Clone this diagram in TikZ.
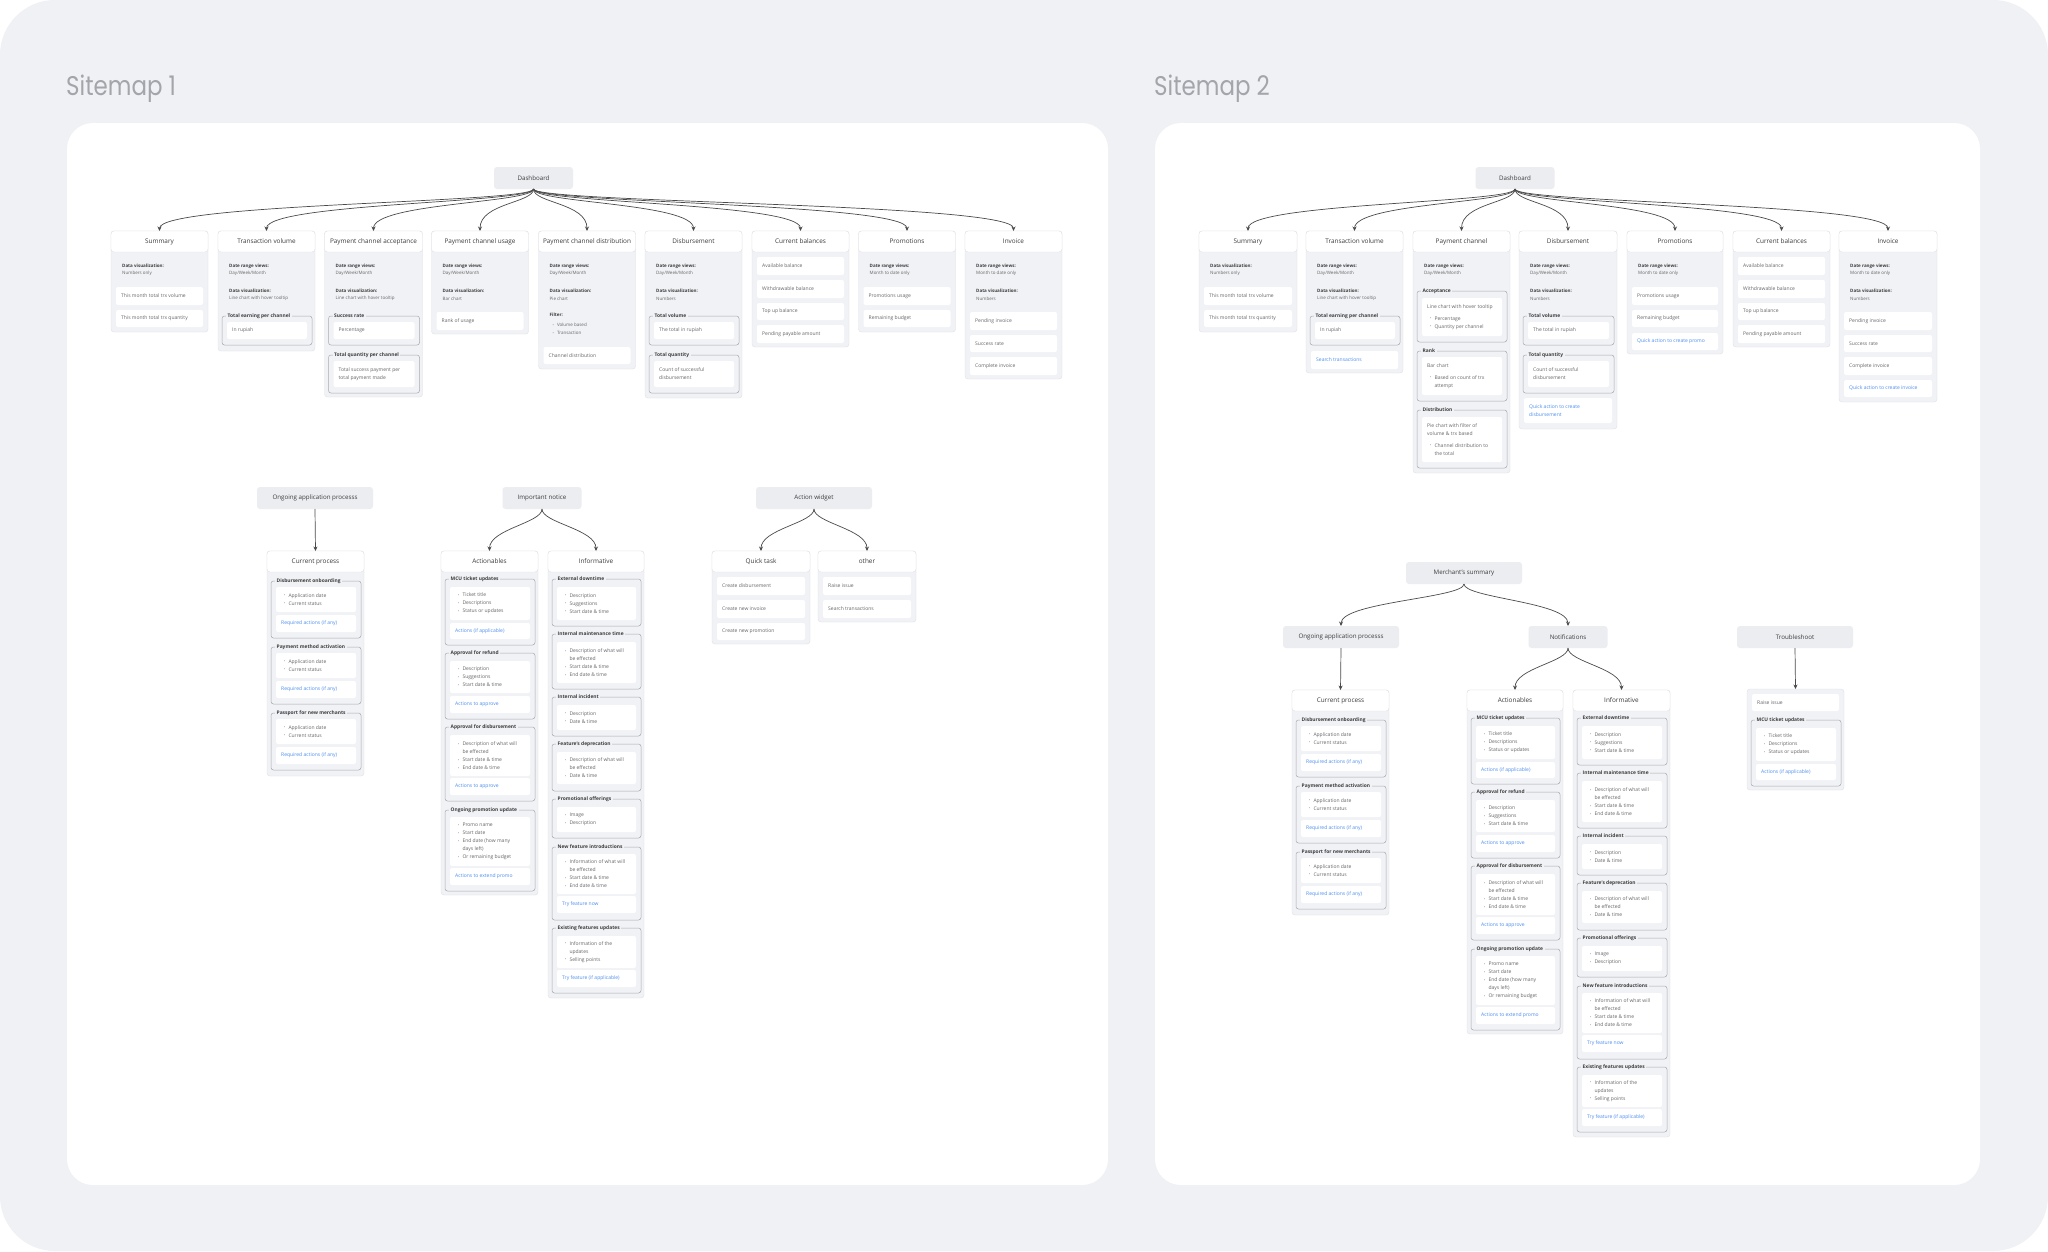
\documentclass[tikz,border=0pt]{standalone}
\usepackage{fontspec}
\usepackage{graphicx}
\setmainfont{Open Sans}
\newfontfamily\poppins{Poppins}
\usetikzlibrary{arrows.meta}
\definecolor{pageG}{HTML}{F0F1F5}
\definecolor{cardG}{HTML}{F1F2F5}
\definecolor{nodeG}{HTML}{ECEDF1}
\definecolor{edgeC}{HTML}{E0E1E6}
\definecolor{grpC}{HTML}{A8AAAF}
\definecolor{txtD}{HTML}{3C3C3C}
\definecolor{txtM}{HTML}{666666}
\definecolor{linkC}{HTML}{4D8EF0}
\definecolor{arrC}{HTML}{4A4A4A}
\definecolor{titleC}{HTML}{A3A5AB}
\newcount\lc
\newcommand\nx{\global\advance\lc by 1\relax}
\newcommand\fT{\fontsize{6.4}{7.5}\selectfont}
\newcommand\fN{\fontsize{6.2}{7.5}\selectfont}
\newcommand\fS{\fontsize{4.5}{7.7}\selectfont}
\newcommand\fI{\fontsize{5}{8}\selectfont}
\newcommand\fG{\fontsize{4.9}{6}\selectfont}
\newcommand\bl{\hspace*{3pt}\makebox[4.3pt][l]{\raisebox{0.4pt}{\fontsize{3.4}{4}\selectfont\textbullet}}}
\newcommand\bc{\hspace*{7.3pt}}
\newcommand\lk[1]{\textcolor{linkC}{#1}}
\tikzset{
 x=1pt, y=-1pt,
 topn/.style={fill=nodeG, rounded corners=3pt, minimum height=22pt, inner sep=0pt, outer sep=0pt, font=\fN, text=txtD},
 cardn/.style={fill=cardG, draw=edgeC, line width=0.4pt, rounded corners=3pt, inner sep=0pt, outer sep=0pt, anchor=north west},
 headn/.style={fill=white, draw=edgeC, line width=0.4pt, rounded corners=3pt, minimum height=21pt, inner sep=0pt, outer sep=0pt, font=\fT, text=txtD, anchor=north west},
 kvb/.style={anchor=west, inner sep=0pt, font=\fS\bfseries, text=txtD},
 kvr/.style={anchor=west, inner sep=0pt, font=\fS, text=txtM},
 itembox/.style={fill=white, rounded corners=2pt, inner sep=0pt, outer sep=0pt, anchor=north west},
 itemtx/.style={anchor=west, align=left, inner sep=0pt, font=\fI, text=txtM},
 grp/.style={draw=grpC, line width=0.5pt, rounded corners=2.5pt},
 grplbl/.style={anchor=west, fill=cardG, inner xsep=1.5pt, inner ysep=0.5pt, font=\fG\bfseries, text=txtD},
 arr/.style={draw=arrC, line width=0.7pt, -{Stealth[length=4.5pt,width=4pt]}},
}
\newcommand\WBox[5]{\pgfmathsetmacro\bw{#3}\pgfmathsetmacro\bh{#4}\pgfmathsetmacro\by{#2+#4/2}%
 \nx\node[itembox, minimum width=\bw pt, minimum height=\bh pt] (L\the\lc) at (#1,#2) {};%
 \nx\node[itemtx] (L\the\lc) at (#1+5,\by) {#5};}
\newcommand\It[3]{\WBox{5}{#1}{\cw-10}{#2}{#3}}
\newcommand\GIt[3]{\WBox{9}{#1}{\cw-17}{#2}{#3}}
\newcommand\Grp[3]{\draw[grp] (4,#1) rectangle (\cw-3,#2);\nx\node[grplbl] (L\the\lc) at (8,#1) {#3};}
\newcommand\KV[3]{\nx\node[kvb] (L\the\lc) at (11,#1) {#2};\nx\node[kvr] (L\the\lc) at (11,#1+7.7) {#3};}
\newcommand\Card[4]{\def\cw{#2}%
 \node[cardn, minimum width=#2pt, minimum height=#3pt] (#1) at (0,0) {};%
 \node[headn, minimum width=#2pt] (#1h) at (0,0) {#4};}
\newcommand\Fan[3]{\draw[arr] (#1.south) .. controls +(0,14) and +(0,-#3) .. (#2.north);}
% reusable contents
\newcommand\AppGrp[2]{\Grp{#1}{#1+57}{#2}\GIt{#1+6}{25}{\bl Application date\\\bl Current status}\GIt{#1+34}{17}{\lk{Required actions (if any)}}}
\newcommand\CurCard[1]{\Card{#1}{97}{225}{Current process}%
 \AppGrp{30}{Disbursement onboarding}\AppGrp{96}{Payment method activation}\AppGrp{162}{Passport for new merchants}}
\newcommand\McuGrp[1]{\Grp{#1}{#1+66}{MCU ticket updates}\GIt{#1+8}{33}{\bl Ticket title\\\bl Descriptions\\\bl Status or updates}\GIt{#1+44}{16}{\lk{Actions (if applicable)}}}
\newcommand\ActCard[2]{\Card{#1}{#2}{344}{Actionables}%
 \McuGrp{28}%
 \Grp{102}{168}{Approval for refund}\GIt{110}{32}{\bl Description\\\bl Suggestions\\\bl Start date \& time}\GIt{145}{17}{\lk{Actions to approve}}%
 \Grp{176}{250}{Approval for disbursement}\GIt{184}{41}{\bl Description of what will\\\bc be effected\\\bl Start date \& time\\\bl End date \& time}\GIt{227}{17}{\lk{Actions to approve}}%
 \Grp{259}{340}{Ongoing promotion update}\GIt{266}{49}{\bl Promo name\\\bl Start date\\\bl End date (how many\\\bc days left)\\\bl Or remaining budget}\GIt{317}{17}{\lk{Actions to extend promo}}}
\newcommand\InfCard[2]{\Card{#1}{#2}{447}{Informative}%
 \Grp{28}{75}{External downtime}\GIt{36}{33}{\bl Description\\\bl Suggestions\\\bl Start date \& time}%
 \Grp{83}{138}{Internal maintenance time}\GIt{91}{41}{\bl Description of what will\\\bc be effected\\\bl Start date \& time\\\bl End date \& time}%
 \Grp{146}{185}{Internal incident}\GIt{154}{25}{\bl Description\\\bl Date \& time}%
 \Grp{193}{240}{Feature's deprecation}\GIt{201}{32}{\bl Description of what will\\\bc be effected\\\bl Date \& time}%
 \Grp{248}{287}{Promotional offerings}\GIt{256}{25}{\bl Image\\\bl Description}%
 \Grp{296}{369}{New feature introductions}\GIt{303}{40}{\bl Information of what will\\\bc be effected\\\bl Start date \& time\\\bl End date \& time}\GIt{345}{17}{\lk{Try feature now}}%
 \Grp{377}{442}{Existing features updates}\GIt{385}{32}{\bl Information of the\\\bc updates\\\bl Selling points}\GIt{419}{17}{\lk{Try feature (if applicable)}}}
\newcommand\SumCard[2]{\Card{#1}{#2}{101}{Summary}\KV{35}{Data visualization:}{Numbers only}%
 \It{56}{18}{This month total trx volume}\It{79}{17}{This month total trx quantity}}
\newcommand\CbCard[2]{\Card{#1}{#2}{116}{Current balances}%
 \It{26}{18}{Available balance}\It{49}{18}{Withdrawable balance}\It{72}{17}{Top up balance}\It{94}{18}{Pending payable amount}}
\newcommand\DateKV{\KV{35}{Date range views:}{Day/Week/Month}}
\newcommand\MonthKV{\KV{35}{Date range views:}{Month to date only}}

\begin{document}
\begin{tikzpicture}
\useasboundingbox (0,0) rectangle (2048,1251);
\fill[white] (0,0) rectangle (2048,1251);
\fill[pageG, rounded corners=55pt] (0,0) rectangle (2048,1251);
\fill[white, rounded corners=26pt] (67,123) rectangle (1108,1185);
\fill[white, rounded corners=26pt] (1155,123) rectangle (1980,1185);
\node[anchor=base west, inner sep=0pt, font=\poppins\fontsize{27}{30}\selectfont, text=titleC] (ttl1) at (66,95) {\scalebox{0.85}[1]{Sitemap 1}};
\node[anchor=base west, inner sep=0pt, font=\poppins\fontsize{27}{30}\selectfont, text=titleC] (ttl2) at (1154,95) {\scalebox{0.85}[1]{Sitemap 2}};

% ================= Sitemap 1 =================
\node[topn, minimum width=79pt] (s1dash) at (533.5,178) {Dashboard};
\begin{scope}[shift={(111,231)}]\SumCard{s1sum}{97}\end{scope}
\begin{scope}[shift={(218,231)}]\Card{s1tv}{97}{120}{Transaction volume}\DateKV
 \KV{60}{Data visualization:}{Line chart with hover tooltip}
 \Grp{85}{114}{Total earning per channel}\GIt{91}{17}{In rupiah}\end{scope}
\begin{scope}[shift={(324.5,231)}]\Card{s1pca}{98}{166}{Payment channel acceptance}\DateKV
 \KV{60}{Data visualization:}{Line chart with hover tooltip}
 \Grp{85}{114}{Success rate}\GIt{91}{17}{Percentage}
 \Grp{124}{162}{Total quantity per channel}\GIt{130}{26}{Total success payment per\\total payment made}\end{scope}
\begin{scope}[shift={(431.5,231)}]\Card{s1pcu}{97}{103}{Payment channel usage}\DateKV
 \KV{60}{Data visualization:}{Bar chart}
 \It{81}{18}{Rank of usage}\end{scope}
\begin{scope}[shift={(538.5,231)}]\Card{s1pcd}{97}{138}{Payment channel distribution}\DateKV
 \KV{60}{Data visualization:}{Pie chart}
 \nx\node[kvb] (L\the\lc) at (11,84) {Filter:};
 \nx\node[kvr] (L\the\lc) at (11,94) {\bl Volume based};
 \nx\node[kvr] (L\the\lc) at (11,102) {\bl Transaction};
 \It{116}{17}{Channel distribution}\end{scope}
\begin{scope}[shift={(645,231)}]\Card{s1dis}{97}{167}{Disbursement}\DateKV
 \KV{60}{Data visualization:}{Numbers}
 \Grp{85}{114}{Total volume}\GIt{91}{17}{The total in rupiah}
 \Grp{124}{162}{Total quantity}\GIt{130}{26}{Count of successful\\disbursement}\end{scope}
\begin{scope}[shift={(752,231)}]\CbCard{s1cb}{97}\end{scope}
\begin{scope}[shift={(858.5,231)}]\Card{s1pro}{97}{101}{Promotions}\MonthKV
 \It{56}{18}{Promotions usage}\It{79}{17}{Remaining budget}\end{scope}
\begin{scope}[shift={(965,231)}]\Card{s1inv}{97}{148}{Invoice}\MonthKV
 \KV{60}{Data visualization:}{Numbers}
 \It{81}{18}{Pending invoice}\It{104}{17}{Success rate}\It{126}{18}{Complete invoice}\end{scope}

\node[topn, minimum width=116pt] (s1ong) at (315,498) {Ongoing application processs};
\node[topn, minimum width=79pt] (s1imp) at (542,498) {Important notice};
\node[topn, minimum width=116pt] (s1aw) at (814,498) {Action widget};
\begin{scope}[shift={(267,551)}]\CurCard{s1cur}\end{scope}
\begin{scope}[shift={(441,551)}]\ActCard{s1act}{97}\end{scope}
\begin{scope}[shift={(548,551)}]\InfCard{s1inf}{96}\end{scope}
\begin{scope}[shift={(712,551)}]\Card{s1qt}{98}{93}{Quick task}
 \It{26}{18}{Create disbursement}\It{49}{18}{Create new invoice}\It{72}{17}{Create new promotion}\end{scope}
\begin{scope}[shift={(818,551)}]\Card{s1oth}{98}{71}{other}
 \It{26}{18}{Raise issue}\It{49}{18}{Search transactions}\end{scope}

% ================= Sitemap 2 =================
\node[topn, minimum width=79pt] (s2dash) at (1515,178) {Dashboard};
\begin{scope}[shift={(1199,231)}]\SumCard{s2sum}{98}\end{scope}
\begin{scope}[shift={(1306,231)}]\Card{s2tv}{97}{142}{Transaction volume}\DateKV
 \KV{60}{Data visualization:}{Line chart with hover tooltip}
 \Grp{85}{114}{Total earning per channel}\GIt{91}{17}{In rupiah}
 \It{120}{18}{\lk{Search transactions}}\end{scope}
\begin{scope}[shift={(1413,231)}]\Card{s2pc}{97}{242}{Payment channel}\DateKV
 \Grp{60}{111}{Acceptance}\GIt{67}{38}{Line chart with hover tooltip\\[4pt]\bl Percentage\\\bl Quantity per channel}
 \Grp{120}{170}{Rank}\GIt{126}{38}{Bar chart\\[4pt]\bl Based on count of trx\\\bc attempt}
 \Grp{179}{237}{Distribution}\GIt{186}{45}{Pie chart with filter of\\volume \& trx based\\[4pt]\bl Channel distribution to\\\bc the total}\end{scope}
\begin{scope}[shift={(1519,231)}]\Card{s2dis}{98}{198}{Disbursement}\DateKV
 \KV{60}{Data visualization:}{Numbers}
 \Grp{85}{114}{Total volume}\GIt{91}{17}{The total in rupiah}
 \Grp{124}{162}{Total quantity}\GIt{130}{26}{Count of successful\\disbursement}
 \It{167}{25}{\lk{Quick action to create}\\\lk{disbursement}}\end{scope}
\begin{scope}[shift={(1627,231)}]\Card{s2pro}{96}{123}{Promotions}\MonthKV
 \It{56}{18}{Promotions usage}\It{79}{17}{Remaining budget}\It{102}{17}{\lk{Quick action to create promo}}\end{scope}
\begin{scope}[shift={(1733,231)}]\CbCard{s2cb}{97}\end{scope}
\begin{scope}[shift={(1839,231)}]\Card{s2inv}{98}{171}{Invoice}\MonthKV
 \KV{60}{Data visualization:}{Numbers}
 \It{81}{18}{Pending invoice}\It{104}{17}{Success rate}\It{126}{18}{Complete invoice}
 \It{149}{17}{\lk{Quick action to create invoice}}\end{scope}

\node[topn, minimum width=116pt] (s2mer) at (1464,573) {Merchant's summary};
\node[topn, minimum width=116pt] (s2ong) at (1341,637) {Ongoing application processs};
\node[topn, minimum width=79pt] (s2not) at (1568,637) {Notifications};
\node[topn, minimum width=116pt] (s2tro) at (1795,637) {Troubleshoot};
\begin{scope}[shift={(1292,690)}]\CurCard{s2cur}\end{scope}
\begin{scope}[shift={(1467,690)}]\ActCard{s2act}{96}\end{scope}
\begin{scope}[shift={(1573,690)}]\InfCard{s2inf}{97}\end{scope}
\begin{scope}[shift={(1747,689)}]\def\cw{97}
 \node[cardn, minimum width=97pt, minimum height=101pt] (s2ts) at (0,0) {};
 \It{5}{17}{Raise issue}\McuGrp{31}\end{scope}

% ================= connectors =================
\foreach \c in {s1sum,s1tv,s1pca,s1pcu,s1pcd,s1dis,s1cb,s1pro,s1inv}{\Fan{s1dash}{\c}{28}}
\foreach \c in {s2sum,s2tv,s2pc,s2dis,s2pro,s2cb,s2inv}{\Fan{s2dash}{\c}{28}}
\draw[arr] (s1ong.south) -- (s1cur.north);
\Fan{s1imp}{s1act}{22}\Fan{s1imp}{s1inf}{22}
\Fan{s1aw}{s1qt}{22}\Fan{s1aw}{s1oth}{22}
\Fan{s2mer}{s2ong}{24}\Fan{s2mer}{s2not}{24}
\draw[arr] (s2ong.south) -- (s2cur.north);
\Fan{s2not}{s2act}{22}\Fan{s2not}{s2inf}{22}
\draw[arr] (s2tro.south) -- (s2ts.north);
\end{tikzpicture}
\end{document}
